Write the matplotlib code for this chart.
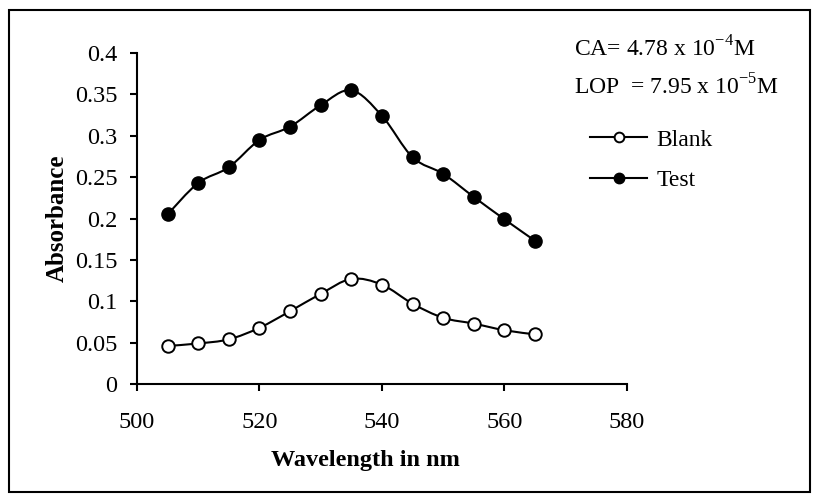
import numpy as np
import matplotlib
matplotlib.use("Agg")
import matplotlib.pyplot as plt
from matplotlib.path import Path
from matplotlib.patches import PathPatch, Rectangle
from matplotlib.lines import Line2D

plt.rcParams['font.family'] = ['Liberation Serif', 'DejaVu Serif']
plt.rcParams['mathtext.fontset'] = 'custom'
plt.rcParams['mathtext.rm'] = 'Liberation Serif'

########################################
#   Data
########################################

wavelength = [505, 510, 515, 520, 525, 530, 535, 540, 545, 550, 555, 560, 565]
blank = [0.046, 0.049, 0.054, 0.068, 0.088, 0.109, 0.127, 0.120, 0.097, 0.080, 0.073, 0.065, 0.060]
test = [0.205, 0.243, 0.262, 0.295, 0.311, 0.337, 0.355, 0.324, 0.274, 0.254, 0.226, 0.199, 0.173]

xTicks = [500, 520, 540, 560, 580]
yTicks = [0, 0.05, 0.1, 0.15, 0.2, 0.25, 0.3, 0.35, 0.4]
yTickLabels = ["0", "0.05", "0.1", "0.15", "0.2", "0.25", "0.3", "0.35", "0.4"]


def smoothPath(x, y):
    # Catmull-Rom curve through the points, drawn as cubic Bezier pieces
    x = np.asarray(x, float)
    y = np.asarray(y, float)
    verts = [(x[0], y[0])]
    codes = [Path.MOVETO]
    n = len(x)
    for i in range(n - 1):
        i0 = max(i - 1, 0)
        i3 = min(i + 2, n - 1)
        c1 = (x[i] + (x[i + 1] - x[i0]) / 6, y[i] + (y[i + 1] - y[i0]) / 6)
        c2 = (x[i + 1] - (x[i3] - x[i]) / 6, y[i + 1] - (y[i3] - y[i]) / 6)
        verts += [c1, c2, (x[i + 1], y[i + 1])]
        codes += [Path.CURVE4] * 3
    return Path(verts, codes)


fig = plt.figure(figsize=(8.13, 4.95), dpi=100)
ax = fig.add_axes([0.1685, 0.2242, 0.6027, 0.6687])

# outer frame
fig.patches.append(Rectangle((9 / 813, 3 / 495), 801 / 813, 482 / 495,
                             transform=fig.transFigure, fill=False,
                             edgecolor="black", linewidth=1.5))

# smoothed lines
for series in (blank, test):
    ax.add_patch(PathPatch(smoothPath(wavelength, series), fill=False,
                           edgecolor="black", linewidth=1.5, zorder=2))

ax.plot(wavelength, blank, linestyle="None", marker="o", markersize=9,
        markerfacecolor="white", markeredgecolor="black", markeredgewidth=1.4, zorder=3)
ax.plot(wavelength, test, linestyle="None", marker="o", markersize=9.5,
        markerfacecolor="black", markeredgecolor="black", zorder=3)

ax.set_xlim(500, 580)
ax.set_ylim(0, 0.4)
ax.set_xticks(xTicks)
ax.set_yticks(yTicks)
ax.set_yticklabels(yTickLabels)
ax.spines['top'].set_visible(False)
ax.spines['right'].set_visible(False)
ax.spines['left'].set_linewidth(1.5)
ax.spines['bottom'].set_linewidth(1.5)
ax.tick_params(direction="out", length=5, width=1.5, labelsize=17.5)
ax.tick_params(axis="x", pad=15)
ax.tick_params(axis="y", pad=9)

fig.text(0.449, 0.07, "Wavelength in nm", ha="center", va="center",
         fontsize=17.5, fontweight="bold")
fig.text(0.07, 0.56, "Absorbance", ha="center", va="center",
         fontsize=18, fontweight="bold", rotation=90)

fig.text(0.706, 0.885, r"CA= 4.78 x 10$^{-4}$M", fontsize=17, va="baseline")
fig.text(0.706, 0.81, r"LOP  = 7.95 x 10$^{-5}$M", fontsize=17, va="baseline")

handles = [
    Line2D([], [], color="black", linewidth=1.5, marker="o", markersize=7,
           markerfacecolor="white", markeredgewidth=1.4),
    Line2D([], [], color="black", linewidth=1.5, marker="o", markersize=7.5,
           markerfacecolor="black"),
]
fig.legend(handles, ["Blank", "Test"], loc="upper left",
           bbox_to_anchor=(0.7, 0.782), frameon=False, fontsize=17,
           handlelength=2.4, handletextpad=0.4, labelspacing=0.8)

plt.savefig("out.png", dpi=100)
